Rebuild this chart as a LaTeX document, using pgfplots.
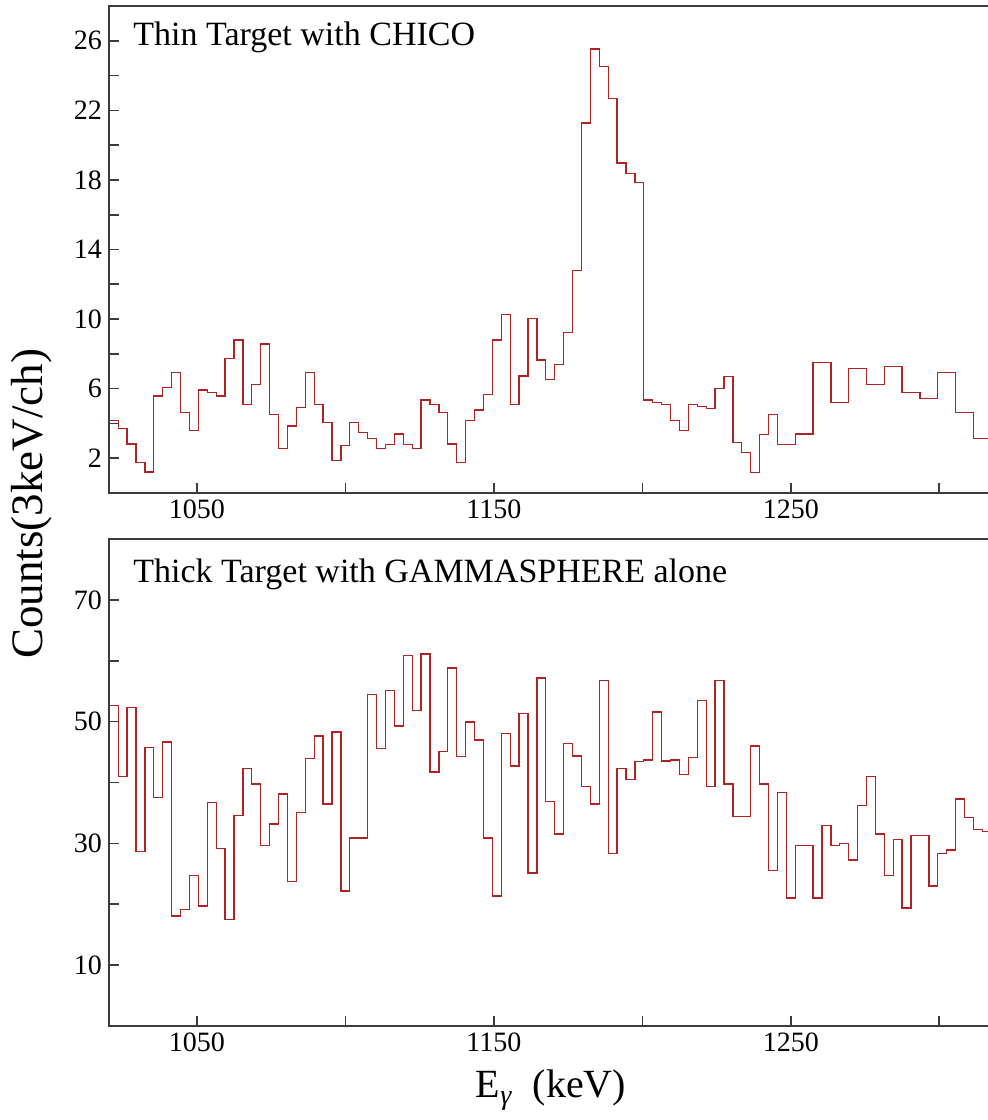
\documentclass[border=0pt]{standalone}
\usepackage{fontspec}
\setmainfont{Liberation Serif}
\usepackage{pgfplots}
\pgfplotsset{compat=1.18}
\usepackage{pgfplotstable}
\definecolor{histred}{RGB}{175,35,35}
\definecolor{framec}{RGB}{60,60,60}

\pgfplotstableread{
x y
1017.5 4.16
1020.5 4.16
1023.5 3.72
1026.5 2.82
1029.5 1.75
1032.5 1.2
1035.5 5.57
1038.5 6.05
1041.5 6.93
1044.5 4.64
1047.5 3.58
1050.5 5.92
1053.5 5.79
1056.5 5.57
1059.5 7.74
1062.5 8.79
1065.5 5.1
1068.5 6.25
1071.5 8.56
1074.5 4.52
1077.5 2.57
1080.5 3.85
1083.5 4.9
1086.5 6.93
1089.5 5.1
1092.5 4.07
1095.5 1.86
1098.5 2.72
1101.5 4.04
1104.5 3.49
1107.5 3.15
1110.5 2.57
1113.5 2.8
1116.5 3.39
1119.5 2.8
1122.5 2.57
1125.5 5.35
1128.5 5.1
1131.5 4.64
1134.5 2.82
1137.5 1.75
1140.5 4.16
1143.5 4.77
1146.5 5.67
1149.5 8.79
1152.5 10.28
1155.5 5.1
1158.5 6.72
1161.5 10.03
1164.5 7.64
1167.5 6.53
1170.5 7.39
1173.5 9.23
1176.5 12.8
1179.5 21.28
1182.5 25.52
1185.5 24.52
1188.5 22.69
1191.5 18.98
1194.5 18.35
1197.5 17.87
1200.5 5.35
1203.5 5.21
1206.5 5.1
1209.5 4.16
1212.5 3.58
1215.5 5.1
1218.5 4.96
1221.5 4.87
1224.5 6.02
1227.5 6.68
1230.5 2.9
1233.5 2.32
1236.5 1.17
1239.5 3.38
1242.5 4.52
1245.5 2.8
1248.5 2.8
1251.5 3.39
1254.5 3.39
1257.5 7.51
1260.5 7.51
1263.5 5.21
1266.5 5.21
1269.5 7.16
1272.5 7.16
1275.5 6.25
1278.5 6.25
1281.5 7.26
1284.5 7.26
1287.5 5.76
1290.5 5.76
1293.5 5.44
1296.5 5.44
1299.5 6.93
1302.5 6.93
1305.5 4.64
1308.5 4.64
1311.5 3.15
1314.5 3.15
1317.5 3.15
1320.5 3.15
}\topdata

\pgfplotstableread{
x y
1017.5 52.66
1020.5 52.66
1023.5 40.99
1026.5 52.28
1029.5 28.66
1032.5 45.73
1035.5 37.55
1038.5 46.66
1041.5 18.07
1044.5 19.11
1047.5 24.73
1050.5 19.71
1053.5 36.73
1056.5 29.2
1059.5 17.53
1062.5 34.55
1065.5 42.35
1068.5 39.73
1071.5 29.64
1074.5 33.19
1077.5 38.1
1080.5 23.75
1083.5 35.1
1086.5 43.99
1089.5 47.64
1092.5 36.46
1095.5 48.3
1098.5 22.17
1101.5 30.9
1104.5 30.9
1107.5 54.46
1110.5 45.62
1113.5 55.12
1116.5 49.28
1119.5 60.85
1122.5 51.84
1125.5 61.12
1128.5 41.75
1131.5 45.08
1134.5 58.83
1137.5 44.26
1140.5 49.93
1143.5 46.99
1146.5 30.9
1149.5 21.35
1152.5 48.03
1155.5 42.73
1158.5 51.3
1161.5 25.11
1164.5 57.19
1167.5 36.84
1170.5 31.55
1173.5 46.39
1176.5 44.37
1179.5 39.35
1182.5 36.46
1185.5 56.81
1188.5 28.39
1191.5 42.35
1194.5 40.55
1197.5 43.44
1200.5 43.72
1203.5 51.57
1206.5 43.55
1209.5 43.72
1212.5 41.37
1215.5 44.1
1218.5 53.48
1221.5 39.35
1224.5 56.75
1227.5 39.73
1230.5 34.44
1233.5 34.44
1236.5 46.0
1239.5 39.73
1242.5 25.55
1245.5 38.37
1248.5 21.02
1251.5 29.64
1254.5 29.64
1257.5 21.02
1260.5 32.91
1263.5 29.64
1266.5 30.02
1269.5 27.29
1272.5 36.19
1275.5 40.99
1278.5 31.55
1281.5 24.73
1284.5 30.62
1287.5 19.38
1290.5 31.28
1293.5 31.28
1296.5 22.98
1299.5 28.28
1302.5 28.93
1305.5 37.28
1308.5 34.28
1311.5 32.26
1314.5 31.93
1317.5 23.9
1320.5 23.9
}\botdata

\begin{document}
\begin{tikzpicture}
\useasboundingbox (-54.5pt,-47pt) rectangle (439pt,513pt);
\pgfplotsset{
  panel/.style={
    scale only axis, width=442pt, height=243.5pt,
    xmin=1020.4, xmax=1318.1,
    anchor=south west,
    axis line style={framec, line width=0.9pt},
    tick align=inside, xtick pos=bottom, ytick pos=left,
    major tick length=5pt, minor tick length=5pt,
    every tick/.style={framec, line width=0.8pt},
    xtick={1050,1150,1250}, minor xtick={1100,1200,1300},
    /pgf/number format/assume math mode=true,
    /pgf/number format/1000 sep={},
    tick label style={font=\fontsize{14}{14}\selectfont},
  },
}
\begin{axis}[panel, name=top, at={(0pt,266.5pt)},
  ymin=0, ymax=28, ytick={2,6,...,26}, minor ytick={4,8,...,24}]
\addplot[const plot mark left, histred, line width=0.65pt] table {\topdata};
\end{axis}
\begin{axis}[panel, name=bot, at={(0pt,0pt)},
  ymin=0, ymax=80, ytick={10,30,50,70}, minor ytick={20,40,60}]
\addplot[const plot mark left, histred, line width=0.65pt] table {\botdata};
\end{axis}
\node[anchor=base west, font=\fontsize{17}{17}\selectfont, inner sep=0pt]
  at ([xshift=12pt,yshift=-20pt]top.north west) {Thin Target with CHICO};
\node[anchor=base west, font=\fontsize{17}{17}\selectfont, inner sep=0pt]
  at ([xshift=12pt,yshift=-21.5pt]bot.north west) {Thick Target with GAMMASPHERE alone};
\node[anchor=base, font=\fontsize{20}{20}\selectfont, inner sep=0pt]
  at ([yshift=-36pt]bot.south) {E\textsubscript{\textit{γ}}\ \ (keV)};
\node[anchor=base, rotate=90, font=\fontsize{22.5}{22.5}\selectfont, inner sep=0pt]
  at (-33pt,261pt) {Counts(3keV/ch)};
\end{tikzpicture}
\end{document}
